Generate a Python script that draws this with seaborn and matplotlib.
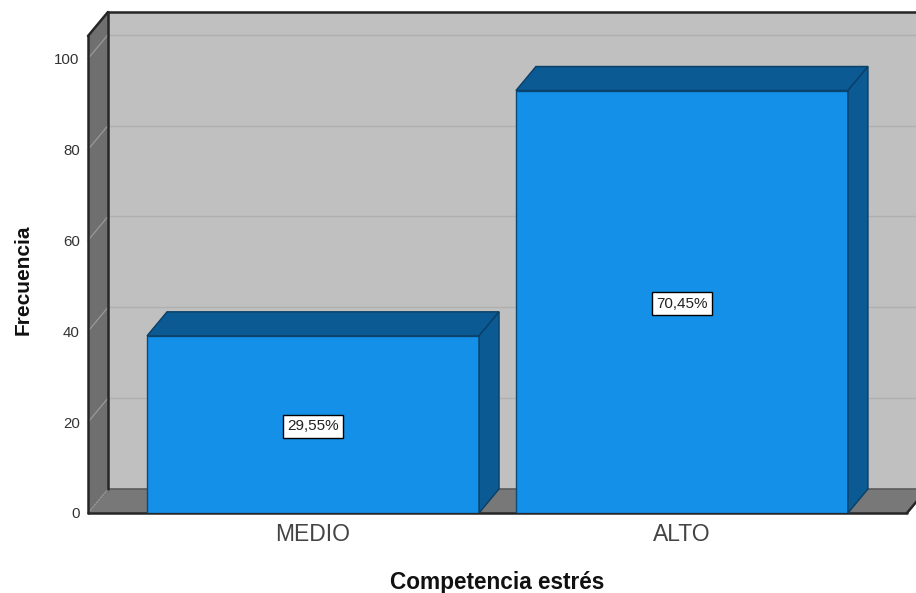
import matplotlib
matplotlib.use('Agg')
import matplotlib.pyplot as plt
import pandas as pd
import seaborn as sns
from matplotlib.patches import Polygon

categories = ['MEDIO', 'ALTO']
frequencies = [39, 93]
percent_labels = ['29,55%', '70,45%']
y_ticks = [0, 20, 40, 60, 80, 100]

sns.set_theme(style='white')
plt.rcParams['font.family'] = ['Liberation Sans', 'DejaVu Sans']

W, H = 916, 593
fig = plt.figure(figsize=(W / 100, H / 100), dpi=100)
# plot area in pixels: left 88, right 907, top 36, bottom 513
ax = fig.add_axes([88 / W, 1 - 513 / H, (907 - 88) / W, (513 - 36) / H])

df = pd.DataFrame({'cat': categories, 'freq': frequencies})
sns.barplot(data=df, x='cat', y='freq', color='#1490e8', saturation=1, width=0.9,
            edgecolor='#0a4a78', linewidth=1, ax=ax, zorder=2)

ax.set_ylim(0, 105)
ax.set_xlim(-0.61, 1.61)
ax.patch.set_visible(False)
sns.despine(ax=ax, left=True, bottom=True, top=True, right=True)

# depth of the fake 3d box, in data units
dx = 20 / 369
dy = 24 / 4.54
x0, x1 = ax.get_xlim()
ytop = ax.get_ylim()[1]


def poly(pts, color, z, edge='none', lw=0):
    ax.add_patch(Polygon(pts, closed=True, facecolor=color, edgecolor=edge, linewidth=lw,
                         zorder=z, clip_on=False))


# walls
poly([(x0 + dx, dy), (x1 + dx, dy), (x1 + dx, ytop + dy), (x0 + dx, ytop + dy)], '#c0c0c0', 0)
poly([(x0, 0), (x0 + dx, dy), (x0 + dx, ytop + dy), (x0, ytop)], '#6f6f6f', 0)
poly([(x0, 0), (x1, 0), (x1 + dx, dy), (x0 + dx, dy)], '#787878', 0)

# gridlines on back and side wall
for v in y_ticks[1:] + [ytop]:
    ax.plot([x0 + dx, x1 + dx], [v + dy, v + dy], color='#b0b0b0', lw=1, zorder=0.5, clip_on=False)
    ax.plot([x0, x0 + dx], [v, v + dy], color='#999999', lw=0.9, zorder=0.5, clip_on=False)
ax.plot([x0, x0 + dx], [0, dy], color='#999999', lw=0.9, ls=':', zorder=0.5)
ax.plot([x0 + dx, x1 + dx], [dy, dy], color='#5c5c5c', lw=1.2, zorder=0.6, clip_on=False)

# box outline
line = dict(color='#262626', lw=1.8, zorder=0.8, clip_on=False, solid_capstyle='round')
ax.plot([x0, x0], [0, ytop], **line)
ax.plot([x0, x0 + dx], [ytop, ytop + dy], **line)
ax.plot([x0 + dx, x1 + dx], [ytop + dy, ytop + dy], **line)
ax.plot([x0 + dx, x0 + dx], [dy, ytop + dy], **line)
ax.plot([x0, x1], [0, 0], **line)
ax.plot([x1, x1 + dx], [0, dy], **line)

# bar tops, sides and labels
for bar, label in zip(ax.containers[0], percent_labels):
    left, right = bar.get_x(), bar.get_x() + bar.get_width()
    h = bar.get_height()
    poly([(left, h), (right, h), (right + dx, h + dy), (left + dx, h + dy)], '#0b5a94', 2,
         edge='#0a3f66', lw=1)
    poly([(right, 0), (right + dx, dy), (right + dx, h + dy), (right, h)], '#0b5a94', 2,
         edge='#0a3f66', lw=1)
    ax.text((left + right) / 2, h / 2 - 0.4, label, ha='center', va='center', fontsize=11,
            color='#222222', zorder=3,
            bbox=dict(boxstyle='square,pad=0.3', facecolor='white', edgecolor='black', linewidth=1))

ax.set_yticks(y_ticks)
ax.tick_params(axis='y', length=0, pad=6, labelsize=10.8, labelcolor='#333333')
ax.tick_params(axis='x', length=0, pad=7, labelsize=16.5, labelcolor='#444444')
ax.set_xlabel('')
ax.set_ylabel('')

fig.text(497 / W, 1 - 583 / H, 'Competencia estrés', ha='center', va='center',
         fontsize=16.3, fontweight='bold', color='#111111')
fig.text(23 / W, 1 - 280 / H, 'Frecuencia', ha='center', va='center', rotation=90,
         fontsize=15, fontweight='bold', color='#111111')

fig.savefig('out.png', dpi=100)
